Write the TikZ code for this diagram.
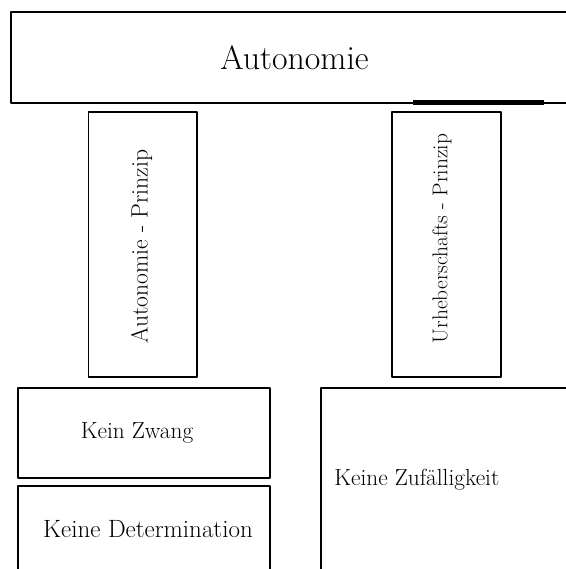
\documentclass[tikz,border=0pt]{standalone}
\begin{document}
\begin{tikzpicture}[line join=bevel,
  box/.style={draw=black,line width=1.9bp,inner sep=0pt},
  txt/.style={draw=none,inner sep=0pt},
  big/.style={font=\fontsize{33.8bp}{40bp}\selectfont},
  small/.style={font=\fontsize{23.3bp}{28bp}\selectfont},
]
\useasboundingbox (0bp,0bp) rectangle (566bp,569bp);
%%
\node (node_top) at (294.5bp,511.5bp) [box,minimum width=567bp,minimum height=90.4bp] {};
  \node (node_autonomie) at (294.5bp,511.5bp) [txt,big] {Autonomie};
  \coordinate (node_bar_a) at (413bp,466.3bp);
  \coordinate (node_bar_b) at (544bp,466.3bp);
  \draw [black,line width=4.5bp] (node_bar_a) -- (node_bar_b);
%
\node (node_left) at (142.75bp,324.5bp) [box,minimum width=108.5bp,minimum height=264.4bp] {};
  \node (node_aprinzip) at (141.5bp,322.5bp) [txt,font=\fontsize{23.6bp}{28bp}\selectfont,rotate=90] {Autonomie - Prinzip};
  \node (node_right) at (446.5bp,324.5bp) [box,minimum width=109bp,minimum height=264.4bp] {};
  \node (node_uprinzip) at (442bp,330.5bp) [txt,font=\fontsize{21.4bp}{26bp}\selectfont,rotate=90] {Urheberschafts - Prinzip};
%
\node (node_zwang_box) at (144bp,135.7bp) [box,minimum width=252.6bp,minimum height=90bp] {};
  \node (node_zwang) at (137bp,135.7bp) [txt,small] {Kein Zwang};
  \node (node_det_box) at (144bp,26.15bp) [box,minimum width=252.6bp,minimum height=114.3bp] {};
  \node (node_det) at (148bp,40.3bp) [txt,font=\fontsize{25bp}{30bp}\selectfont] {Keine Determination};
  \node (node_zuf_box) at (460.35bp,74.85bp) [box,minimum width=279.3bp,minimum height=211.7bp] {};
  \node (node_zuf) at (416.8bp,89.8bp) [txt,small] {Keine Zufälligkeit};
%
\end{tikzpicture}
\end{document}
